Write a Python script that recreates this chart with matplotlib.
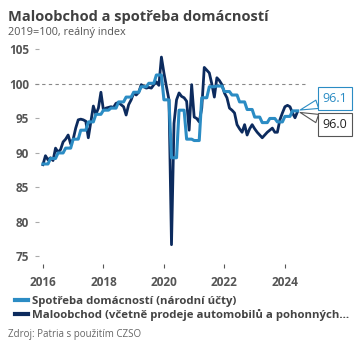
import matplotlib
matplotlib.use("Agg")
import matplotlib.pyplot as plt
import numpy as np

plt.rcParams['font.family'] = ['Open Sans', 'DejaVu Sans']

# monthly retail index, 2016-01 .. 2024-06
retail = [
    88.3, 89.6, 89.0, 89.3, 88.9, 90.7, 90.1, 90.5, 91.6, 92.0, 92.6, 91.3,   # 2016
    92.0, 93.6, 94.8, 94.9, 94.8, 94.6, 92.2, 94.5, 96.8, 95.6, 96.5, 98.8,   # 2017
    96.2, 96.5, 96.6, 96.7, 96.6, 97.2, 97.3, 97.0, 96.7, 95.5, 97.0, 97.7,   # 2018
    98.7, 98.4, 98.8, 99.9, 99.6, 99.4, 99.5, 99.4, 99.9, 100.3, 99.8, 103.9, # 2019
    101.6, 99.6, 97.7, 76.7, 94.3, 97.7, 98.7, 98.2, 98.0, 97.5, 93.3, 99.9,  # 2020
    95.2, 95.0, 94.5, 96.5, 102.4, 102.0, 101.6, 100.0, 98.1, 100.9, 100.5, 99.9,  # 2021
    98.7, 98.0, 96.5, 96.2, 95.8, 94.1, 93.5, 93.0, 94.1, 92.6, 93.5, 94.1,   # 2022
    93.5, 93.0, 92.6, 92.2, 92.6, 93.0, 93.3, 93.6, 93.0, 93.0, 94.8, 95.8,   # 2023
    96.7, 96.9, 96.7, 95.8, 95.1, 96.0,                                       # 2024
]

# quarterly household consumption (national accounts), 2016Q1 .. 2024Q2
consumption_q = [
    88.4, 89.2, 90.0, 90.7,
    92.0, 93.3, 94.5, 95.6,
    96.2, 96.5, 97.4, 98.1,
    98.8, 99.6, 100.1, 101.3,
    97.7, 89.3, 96.2, 92.0,
    91.8, 98.0, 99.6, 99.7,
    98.9, 98.4, 97.4, 96.3,
    95.2, 94.4, 95.0, 94.5,
    95.3, 96.1,
]

years = [2016, 2018, 2020, 2022, 2024]
yticks = [75, 80, 85, 90, 95, 100, 105]

t = 2016 + np.arange(len(retail)) / 12
consumption = np.repeat(consumption_q, 3)[:len(retail)]

c_light = '#2b8cc4'
c_dark = '#0c2b5e'
c_text = '#555555'

fig = plt.figure(figsize=(3.6, 3.6), dpi=100)
ax = fig.add_axes([39/360, 1 - 264/360, (307-39)/360, (264-47)/360])

ax.axhline(100, color='#888888', lw=0.8, ls=(0, (3, 3)), xmin=-0.015, clip_on=False)
ax.plot(t, retail, color=c_dark, lw=2.0, solid_joinstyle='round')
ax.plot(t, consumption, color=c_light, lw=2.2, solid_joinstyle='round')

ax.set_xlim(2016 - 4/30.7, 2016 + 268/30.7)
ax.set_ylim(73.9, 105.36)
ax.set_xticks(years)
ax.set_xticklabels([str(y) for y in years])
ax.set_yticks(yticks)
for s in ax.spines.values():
    s.set_visible(False)
ax.tick_params(axis='y', length=3, color='#aaaaaa', pad=4, labelsize=8.5, labelcolor=c_text)
ax.tick_params(axis='x', length=3, color='#555555', pad=6, labelsize=8.5, labelcolor=c_text)
for lab in ax.get_xticklabels() + ax.get_yticklabels():
    lab.set_fontweight('bold')

# end-value callouts
ax.annotate(f'{consumption[-1]:.1f}', xy=(t[-1], consumption[-1]), xytext=(27, 9),
            textcoords='offset points', color=c_light, fontsize=9, ha='center', va='center',
            bbox=dict(boxstyle='square,pad=0.4', fc='white', ec=c_light, lw=0.8),
            arrowprops=dict(arrowstyle='wedge,tail_width=0.7', fc='white', ec=c_light, lw=0.8,
                            shrinkA=0, shrinkB=2))
ax.annotate(f'{retail[-1]:.1f}', xy=(t[-1], retail[-1]), xytext=(27, -9.5),
            textcoords='offset points', color='#222222', fontsize=9, ha='center', va='center',
            bbox=dict(boxstyle='square,pad=0.4', fc='white', ec='#555555', lw=0.8),
            arrowprops=dict(arrowstyle='wedge,tail_width=0.7', fc='white', ec='#555555', lw=0.8,
                            shrinkA=0, shrinkB=2))

fig.text(8/360, 1 - 17/360, 'Maloobchod a spotřeba domácností', fontsize=10.5,
         fontweight='bold', color='#404040', va='center')
fig.text(8/360, 1 - 33/360, '2019=100, reálný index', fontsize=7.8, color='#555555', va='center')

h1, = ax.plot([], [], color=c_light, lw=3)
h2, = ax.plot([], [], color=c_dark, lw=3)
fig.legend([h1, h2], ['Spotřeba domácností (národní účty)',
                      'Maloobchod (včetně prodeje automobilů a pohonných...'],
           loc='upper left', bbox_to_anchor=(10/360, 1 - 291/360), frameon=False,
           handlelength=1.2, handletextpad=0.3, labelspacing=0.2, borderaxespad=0,
           prop=dict(size=8.2, weight='bold'), labelcolor='#444444')

fig.text(8/360, 1 - 335/360, 'Zdroj: Patria s použitím CZSO', fontsize=7, color='#666666', va='center')

fig.savefig('out.png', dpi=100)
